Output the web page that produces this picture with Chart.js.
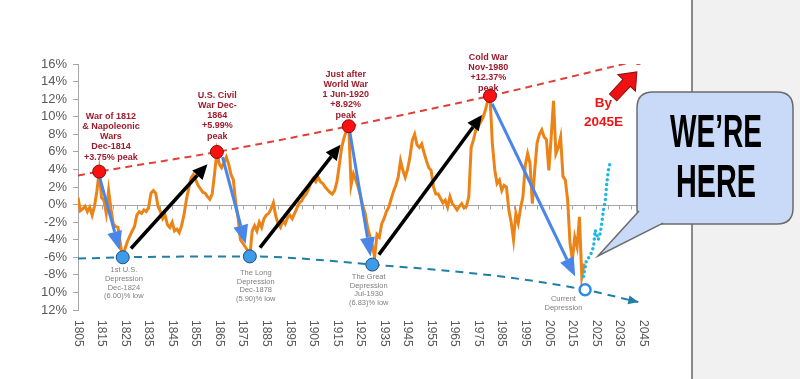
<!DOCTYPE html>
<html>
<head>
<meta charset="utf-8">
<script src="https://cdn.jsdelivr.net/npm/chart.js@4.4.1/dist/chart.umd.min.js"></script>
<style>
  html, body { margin: 0; padding: 0; background: #fff; }
  #wrap { position: relative; width: 800px; height: 379px; }
</style>
</head>
<body>
<div id="wrap"><canvas id="chart" width="800" height="379"></canvas></div>
<script>
// yearly real-rate series, first value is 1805
const RATE_START = 1805;
const realRate = [
  0.8, -0.7, -0.5, -0.2, -0.8, -0.3, -1.2, -0.2, 1.5, 3.75,
  0.8, 0.5, -1.0, 1.6, -0.5, -2.2, -2.5, -2.6, -4.5, -6.0,
  -5.0, -4.2, -3.6, -3.0, -2.5, -1.2, -0.8, -1.0, -0.6, -0.8,
  -0.3, 1.3, 1.6, 1.3, -0.2, -0.8, -1.6, -1.2, -2.3, -2.6,
  -2.0, -3.0, -2.8, -3.2, -2.4, -1.2, 0.5, 1.8, 3.0, 3.4,
  2.8, 2.2, 1.8, 1.4, 1.3, 0.9, 0.6, 1.2, 3.5, 5.99,
  4.6, 4.2, 4.8, 5.4, 4.6, 3.4, 2.8, 0.2, -1.5, -4.0,
  -4.4, -4.8, -5.2, -5.9, -3.0, -2.4, -3.0, -2.0, -2.6, -1.6,
  -1.2, -1.0, -0.5, 0.2, -1.3, -2.2, -2.6, -1.8, -2.2, -1.5,
  -1.2, -1.6, -1.0, -0.4, 0.2, 0.4, 0.9, 1.2, 1.8, 2.6,
  3.0, 2.6, 3.1, 2.6, 2.4, 2.0, 1.7, 1.4, 1.2, 1.6,
  2.6, 4.5, 6.5, 7.6, 8.4, 8.92, 2.2, 3.5, 2.8, 2.0,
  1.0, -0.2, -1.0, -2.6, -3.6, -4.6, -6.0, -3.4, -3.7, -2.2,
  -1.6, -0.8, -0.3, 0.6, 1.5, 2.2, 3.1, 5.0, 3.9, 3.1,
  4.0, 5.4, 7.3, 8.0, 6.8, 6.5, 6.9, 5.9, 5.0, 4.2,
  3.9, 2.0, 1.2, 1.2, 0.7, 0.2, 0.5, -0.3, 0.9, 0.1,
  -0.2, -0.6, -0.2, 0.1, -0.4, -0.2, 0.9, 6.5, 7.4, 8.5,
  8.9, 9.4, 9.9, 10.7, 11.8, 12.37, 7.0, 4.0, 2.4, 2.8,
  1.6, 2.2, 2.0, -0.6, -2.0, -4.0, -1.0, -2.1, -0.4, 0.9,
  4.5, 5.8, 4.7, 0.1, 3.9, 7.0, 8.0, 8.5, 7.7, 7.4,
  3.9, 7.7, 11.8, 5.8, 6.5, 7.7, 3.2, 2.8, 0.5, -4.4,
  -6.3, -3.7, -4.8, -1.4, -8.2, -6.7
];

// dotted projection after the last reading
const projYears = [2019.7, 2021, 2022.5, 2024, 2024.7, 2026, 2026.8, 2027.5, 2028.2, 2029, 2029.6, 2030.3, 2031];
const projValues = [-8.2, -6.3, -5.9, -4.8, -2.9, -4.0, -3.3, -2.1, -0.6, 0.5, 2.4, 3.9, 4.7];

const peakYears = [1814, 1864, 1920, 1980];
const peakValues = [3.75, 5.99, 8.92, 12.37];
const lowYears = [1824, 1878, 1930];
const lowValues = [-6.0, -5.9, -6.83];
const currentYear = [2020.4];
const currentValue = [-9.7];
const targetYear = [2043];
const targetValue = [16.4];

const peakTrendYears = [1805, 1814, 1864, 1920, 1980, 2043];
const peakTrendValues = [3.3, 3.75, 5.99, 8.92, 12.37, 16.4];
const lowTrendYears = [1805, 1824, 1878, 1930, 1985, 2020.4, 2043];
const lowTrendValues = [-6.15, -6.0, -5.9, -6.83, -8.2, -9.7, -11.1];

// arrows: [year, value] start and end
const blueArrowFrom = [[1814.2, 3.1], [1866.4, 5.4], [1920.1, 8.85], [1980.9, 11.5]];
const blueArrowTo = [[1822.7, -5.2], [1876.2, -4.5], [1929.3, -5.9], [2016.2, -8.2]];
const blackArrowFrom = [[1827.5, -5.0], [1882.3, -4.9], [1932.8, -5.7]];
const blackArrowTo = [[1860, 4.6], [1916.5, 6.8], [1976.6, 10.2]];
const redArrow = [[2032.3, 12.2], [2042.4, 15.1]];

const xTickLabels = ['1805', '1815', '1825', '1835', '1845', '1855', '1865', '1875', '1885', '1895', '1905', '1915', '1925',
  '1935', '1945', '1955', '1965', '1975', '1985', '1995', '2005', '2015', '2025', '2035', '2045'];

const peakNotes = [
  { at: [1819, 10.07], lines: ['War of 1812', '& Napoleonic', 'Wars', 'Dec-1814', '+3.75% peak'] },
  { at: [1864.2, 12.46], lines: ['U.S. Civil', 'War Dec-', '1864', '+5.99%', 'peak'] },
  { at: [1918.7, 14.85], lines: ['Just after', 'World War', '1 Jun-1920', '+8.92%', 'peak'] },
  { at: [1979.3, 16.78], lines: ['Cold War', 'Nov-1980', '+12.37%', 'peak'] }
];
const lowNotes = [
  { at: [1824.5, -7.45], lines: ['1st U.S.', 'Depression', 'Dec-1824', '(6.00)% low'] },
  { at: [1880.5, -7.76], lines: ['The Long', 'Depression', 'Dec-1878', '(5.90)% low'] },
  { at: [1928.5, -8.21], lines: ['The Great', 'Depression', 'Jul-1930', '(6.83)% low'] },
  { at: [2011.2, -10.75], lines: ['Current', 'Depression'] }
];

const FONT = "'Liberation Sans', Arial, sans-serif";
const COLORS = {
  orange: '#EC8317',
  cyan: '#1DB7E3',
  peakTrend: '#E0403A',
  lowTrend: '#1F7FA6',
  blueArrow: '#4A86E8',
  noteRed: '#9C1C2C',
  noteGray: '#7f7f7f',
  axis: '#a6a6a6',
  tick: '#595959'
};

function pts(xs, ys) {
  return xs.map((x, i) => ({ x, y: ys[i] }));
}

function drawArrow(c, x1, y1, x2, y2, color, width, headLen, headW) {
  const ang = Math.atan2(y2 - y1, x2 - x1);
  const bx = x2 - headLen * Math.cos(ang);
  const by = y2 - headLen * Math.sin(ang);
  c.strokeStyle = color;
  c.lineWidth = width;
  c.beginPath();
  c.moveTo(x1, y1);
  c.lineTo(bx, by);
  c.stroke();
  c.fillStyle = color;
  c.beginPath();
  c.moveTo(x2, y2);
  c.lineTo(bx + headW / 2 * Math.sin(ang), by - headW / 2 * Math.cos(ang));
  c.lineTo(bx - headW / 2 * Math.sin(ang), by + headW / 2 * Math.cos(ang));
  c.closePath();
  c.fill();
}

function drawNote(c, x, y, lines, font, color, step) {
  c.font = font;
  c.fillStyle = color;
  c.textAlign = 'center';
  c.textBaseline = 'middle';
  lines.forEach((t, i) => c.fillText(t, x, y + i * step));
}

function roundRect(c, x, y, w, h, r) {
  c.beginPath();
  c.moveTo(x + r, y);
  c.lineTo(x + w - r, y);
  c.quadraticCurveTo(x + w, y, x + w, y + r);
  c.lineTo(x + w, y + h - r);
  c.quadraticCurveTo(x + w, y + h, x + w - r, y + h);
  c.lineTo(x + r, y + h);
  c.quadraticCurveTo(x, y + h, x, y + h - r);
  c.lineTo(x, y + r);
  c.quadraticCurveTo(x, y, x + r, y);
  c.closePath();
}

const overlay = {
  id: 'overlay',
  beforeDraw(chart) {
    const c = chart.ctx;
    c.save();
    c.fillStyle = '#ffffff';
    c.fillRect(0, 0, chart.width, chart.height);
    // grey side panel
    c.fillStyle = '#f1f1f1';
    c.fillRect(692, 0, chart.width - 692, chart.height);
    c.strokeStyle = '#8a8a8a';
    c.lineWidth = 2;
    c.beginPath();
    c.moveTo(692, 0);
    c.lineTo(692, chart.height);
    c.stroke();
    c.restore();
  },
  beforeDatasetsDraw(chart) {
    const { ctx: c, scales: { x, y } } = chart;
    const y0 = Math.round(y.getPixelForValue(0)) + 0.5;
    c.save();
    c.strokeStyle = COLORS.axis;
    c.lineWidth = 1;
    c.beginPath();
    c.moveTo(x.left, y0);
    c.lineTo(x.right, y0);
    for (let yr = 1805; yr <= 2045; yr += 5) {
      const px = Math.round(x.getPixelForValue(yr)) + 0.5;
      c.moveTo(px, y0);
      c.lineTo(px, y0 + 4);
    }
    c.stroke();
    // rotated year labels
    c.font = '12px ' + FONT;
    c.fillStyle = COLORS.tick;
    c.textAlign = 'left';
    c.textBaseline = 'middle';
    xTickLabels.forEach(lbl => {
      const px = x.getPixelForValue(Number(lbl));
      c.save();
      c.translate(px, y.bottom + 10);
      c.rotate(Math.PI / 2);
      c.fillText(lbl, 0, 0);
      c.restore();
    });
    c.restore();
  },
  afterDatasetDraw(chart, args) {
    if (chart.data.datasets[args.index].label !== 'Real rate') return;
    const { ctx: c, scales: { x, y } } = chart;
    c.save();
    c.lineCap = 'butt';
    blueArrowFrom.forEach((f, i) => {
      const t = blueArrowTo[i];
      drawArrow(c, x.getPixelForValue(f[0]), y.getPixelForValue(f[1]),
        x.getPixelForValue(t[0]), y.getPixelForValue(t[1]), COLORS.blueArrow, 3, 19, 15);
    });
    blackArrowFrom.forEach((f, i) => {
      const t = blackArrowTo[i];
      drawArrow(c, x.getPixelForValue(f[0]), y.getPixelForValue(f[1]),
        x.getPixelForValue(t[0]), y.getPixelForValue(t[1]), '#000000', 3.5, 15, 14);
    });
    c.restore();
  },
  afterDatasetsDraw(chart) {
    const { ctx: c, scales: { x, y } } = chart;
    c.save();
    // arrowhead on the lower trend
    const n = lowTrendYears.length;
    drawArrow(c, x.getPixelForValue(lowTrendYears[n - 2]), y.getPixelForValue(lowTrendValues[n - 2]),
      x.getPixelForValue(lowTrendYears[n - 1]), y.getPixelForValue(lowTrendValues[n - 1]),
      COLORS.lowTrend, 0.01, 10, 9);

    // fat red arrow toward 2045
    const ax = x.getPixelForValue(redArrow[0][0]), ay = y.getPixelForValue(redArrow[0][1]);
    const bx = x.getPixelForValue(redArrow[1][0]), by = y.getPixelForValue(redArrow[1][1]);
    const ang = Math.atan2(by - ay, bx - ax);
    const len = Math.hypot(bx - ax, by - ay);
    c.translate(ax, ay);
    c.rotate(ang);
    c.beginPath();
    c.moveTo(0, -5);
    c.lineTo(len - 15, -5);
    c.lineTo(len - 15, -12);
    c.lineTo(len, 0);
    c.lineTo(len - 15, 12);
    c.lineTo(len - 15, 5);
    c.lineTo(0, 5);
    c.closePath();
    c.fillStyle = '#F01212';
    c.fill();
    c.strokeStyle = '#8a1010';
    c.lineWidth = 1;
    c.stroke();
    c.setTransform(1, 0, 0, 1, 0, 0);

    peakNotes.forEach(n => drawNote(c, x.getPixelForValue(n.at[0]), y.getPixelForValue(n.at[1]),
      n.lines, 'bold 9px ' + FONT, COLORS.noteRed, 10.3));
    lowNotes.forEach(n => drawNote(c, x.getPixelForValue(n.at[0]), y.getPixelForValue(n.at[1]),
      n.lines, '7.5px ' + FONT, COLORS.noteGray, 8.8));
    drawNote(c, x.getPixelForValue(2028.2), y.getPixelForValue(11.51), ['By', '2045E'],
      'bold 13.5px ' + FONT, '#F01414', 18.4);

    // speech bubble
    c.beginPath();
    roundRect(c, 637, 92, 156, 132, 16);
    c.fillStyle = '#C9DAF8';
    c.fill();
    c.strokeStyle = '#6b6b6b';
    c.lineWidth = 1.5;
    c.stroke();
    c.beginPath();
    c.moveTo(639, 211);
    c.lineTo(598, 256);
    c.lineTo(663, 223.2);
    c.closePath();
    c.fillStyle = '#C9DAF8';
    c.fill();
    c.beginPath();
    c.moveTo(639, 211);
    c.lineTo(598, 256);
    c.lineTo(663, 223.2);
    c.stroke();

    c.fillStyle = '#000000';
    c.font = 'bold 47px ' + FONT;
    c.textBaseline = 'alphabetic';
    c.textAlign = 'left';
    [['WE\u2019RE', 147, 92], ['HERE', 197, 80]].forEach(([t, base, w]) => {
      const mw = c.measureText(t).width;
      c.save();
      c.translate(716 - w / 2, base);
      c.scale(w / mw, 1);
      c.fillText(t, 0, 0);
      c.restore();
    });
    c.restore();
  }
};

new Chart(document.getElementById('chart'), {
  type: 'line',
  data: {
    datasets: [
      {
        label: 'Peaks',
        data: pts(peakYears, peakValues),
        showLine: false,
        pointRadius: 6.5,
        pointBackgroundColor: '#FF1010',
        pointBorderColor: '#7a1010',
        pointBorderWidth: 1,
        order: 0
      },
      {
        label: 'Lows',
        data: pts(lowYears, lowValues),
        showLine: false,
        pointRadius: 6.5,
        pointBackgroundColor: '#3E9BEA',
        pointBorderColor: '#1d4f80',
        pointBorderWidth: 1,
        order: 0
      },
      {
        label: 'Current',
        data: pts(currentYear, currentValue),
        showLine: false,
        pointRadius: 5.5,
        pointBackgroundColor: '#ffffff',
        pointBorderColor: '#2F8BE6',
        pointBorderWidth: 2.5,
        order: 0
      },
      {
        label: 'Target',
        data: pts(targetYear, targetValue),
        showLine: false,
        pointRadius: 4.5,
        pointBackgroundColor: '#D93A3A',
        pointBorderWidth: 0,
        order: 0
      },
      {
        label: 'Projection',
        data: pts(projYears, projValues),
        borderColor: COLORS.cyan,
        borderWidth: 3.5,
        borderDash: [0, 5],
        borderCapStyle: 'round',
        pointRadius: 0,
        tension: 0,
        order: 4
      },
      {
        label: 'Real rate',
        data: realRate.map((v, i) => ({ x: RATE_START + i, y: v })),
        borderColor: COLORS.orange,
        borderWidth: 3,
        pointRadius: 0,
        tension: 0,
        order: 5
      },
      {
        label: 'Peak trend',
        data: pts(peakTrendYears, peakTrendValues),
        borderColor: COLORS.peakTrend,
        borderWidth: 2,
        borderDash: [7, 5],
        pointRadius: 0,
        cubicInterpolationMode: 'monotone',
        order: 8
      },
      {
        label: 'Low trend',
        data: pts(lowTrendYears, lowTrendValues),
        borderColor: COLORS.lowTrend,
        borderWidth: 2,
        borderDash: [8, 6],
        pointRadius: 0,
        cubicInterpolationMode: 'monotone',
        order: 8
      }
    ]
  },
  options: {
    responsive: false,
    animation: false,
    events: [],
    layout: { padding: { top: 64, right: 157, bottom: 0, left: 0 } },
    plugins: { legend: { display: false }, tooltip: { enabled: false } },
    scales: {
      x: {
        type: 'linear',
        min: 1805,
        max: 2045,
        grid: { display: false },
        border: { display: false },
        ticks: { display: false },
        afterFit: s => { s.height = 69; }
      },
      y: {
        min: -12,
        max: 16,
        grid: { drawOnChartArea: false, drawTicks: true, tickLength: 5, color: COLORS.axis },
        border: { display: true, color: COLORS.axis },
        ticks: {
          stepSize: 2,
          autoSkip: false,
          padding: 6,
          color: COLORS.tick,
          font: { family: FONT, size: 13 },
          callback: v => (v <= -10 ? Math.abs(v) : v) + '%'
        },
        afterFit: s => { s.width = 78; }
      }
    }
  },
  plugins: [overlay]
});
</script>
</body>
</html>
